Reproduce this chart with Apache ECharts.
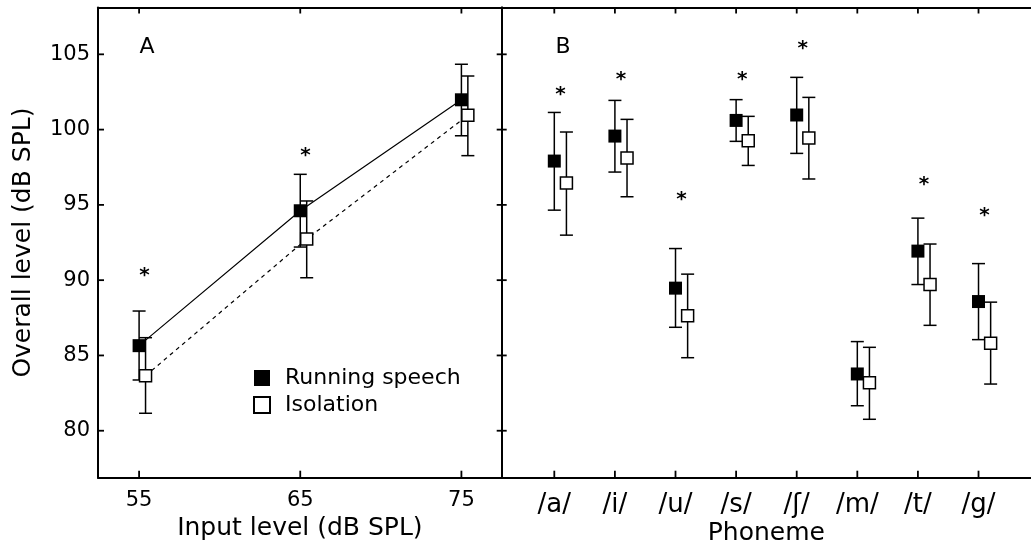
<!DOCTYPE html>
<html>
<head>
<meta charset="utf-8">
<script src="https://cdn.jsdelivr.net/npm/echarts@6/dist/echarts.min.js"></script>
<style>
html,body{margin:0;padding:0;background:#fff;}
#chart{width:1031px;height:548px;}
</style>
</head>
<body>
<div id="chart"></div>
<script>
// ---------- data ----------
const inputLevels = [55, 65, 75];
const runA    = [85.65, 94.61, 101.98];
const runALo  = [83.37, 92.20, 99.59];
const runAHi  = [87.95, 97.03, 104.34];
const isoA    = [83.65, 92.73, 100.95];
const isoALo  = [81.16, 90.16, 98.27];
const isoAHi  = [86.18, 95.26, 103.56];
const starsA  = [90.41, 98.40, null];

const phonemes = ['/a/', '/i/', '/u/', '/s/', '/ʃ/', '/m/', '/t/', '/g/'];
const runB    = [97.91, 99.57, 89.47, 100.61, 100.97, 83.77, 91.93, 88.58];
const runBLo  = [94.65, 97.18, 86.87, 99.22, 98.42, 81.66, 89.71, 86.05];
const runBHi  = [101.14, 101.94, 92.10, 101.99, 103.47, 85.92, 94.12, 91.10];
const isoB    = [96.45, 98.11, 87.63, 99.26, 99.44, 83.19, 89.71, 85.81];
const isoBLo  = [92.99, 95.54, 84.85, 97.62, 96.72, 80.76, 87.00, 83.10];
const isoBHi  = [99.84, 100.68, 90.40, 100.88, 102.14, 85.54, 92.40, 88.54];
const starsB  = [102.47, 103.47, 95.48, 103.47, 105.51, null, 96.50, 94.44];

const yTicks = [80, 85, 90, 95, 100, 105];
const seriesNames = ['Running speech', 'Isolation'];
const panelLabels = ['A', 'B'];
const xTitleA = 'Input level (dB SPL)';
const xTitleB = 'Phoneme';
const yTitle = 'Overall level (dB SPL)';

// ---------- layout ----------
const FONT = 'DejaVu Sans';
const TICK_COLOR = '#000';
const isoOffA = 0.4, starOffA = 0.33;
const isoOffB = 0.2, starOffB = 0.1;
const phIdx = phonemes.map((_, i) => i);
const YMIN = 76.88, YMAX = 108.11;
const XA = [52.45, 77.5], XB = [-0.868, 7.866];

const axisLine = {show: true, onZero: false, lineStyle: {color: '#000', width: 2}};
function plainAxis(grid, pos, range) {
  return {gridIndex: grid, type: 'value', position: pos, min: range[0], max: range[1],
          axisLine: axisLine, axisTick: {show: false}, splitLine: {show: false},
          axisLabel: {show: false}};
}

// inward tick marks: one line element per data item, placed through the axis scales
function tickSeries(items, xi, yi, isX) {
  return {
    type: 'custom', xAxisIndex: xi, yAxisIndex: yi, z: 20, zlevel: 1, silent: true, clip: false,
    data: items,
    renderItem: function (params, api) {
      const v = api.value(0), e = api.value(1), d = api.value(2), len = api.value(3);
      const p = isX ? api.coord([v, e]) : api.coord([e, v]);
      const shape = isX ? {x1: p[0], y1: p[1], x2: p[0], y2: p[1] + d * len}
                        : {x1: p[0], y1: p[1], x2: p[0] + d * len, y2: p[1]};
      return {type: 'line', shape: shape, style: {stroke: TICK_COLOR, lineWidth: 1.8}};
    }
  };
}
function xTickItems(vals, bottomLen, topLen) {
  const out = [];
  vals.forEach(v => { out.push([v, YMIN, -1, bottomLen]); out.push([v, YMAX, 1, topLen]); });
  return out;
}
function yTickItems(vals, range, leftLen, rightLen) {
  const out = [];
  vals.forEach(v => {
    if (leftLen) out.push([v, range[0], 1, leftLen]);
    if (rightLen) out.push([v, range[1], -1, rightLen]);
  });
  return out;
}

function errData(xs, lo, hi, off) {
  return xs.map((x, i) => [x + off, lo[i], hi[i]]);
}
function errSeries(data, xi, yi) {
  return {
    type: 'custom', xAxisIndex: xi, yAxisIndex: yi, z: 3, silent: true,
    encode: {x: 0, y: [1, 2]},
    data: data,
    renderItem: function (params, api) {
      const x = api.value(0);
      const a = api.coord([x, api.value(1)]);
      const b = api.coord([x, api.value(2)]);
      const w = 6.5;
      const st = {stroke: '#000', lineWidth: 1.5};
      return {type: 'group', children: [
        {type: 'line', shape: {x1: a[0], y1: a[1], x2: b[0], y2: b[1]}, style: st},
        {type: 'line', shape: {x1: a[0] - w, y1: a[1], x2: a[0] + w, y2: a[1]}, style: st},
        {type: 'line', shape: {x1: b[0] - w, y1: b[1], x2: b[0] + w, y2: b[1]}, style: st}
      ]};
    }
  };
}
function starSeries(xs, ys, off, xi, yi) {
  const data = [];
  xs.forEach((x, i) => { if (ys[i] != null) data.push([x + off, ys[i]]); });
  return {
    type: 'custom', xAxisIndex: xi, yAxisIndex: yi, z: 5, silent: true,
    data: data,
    renderItem: function (params, api) {
      const p = api.coord([api.value(0), api.value(1)]);
      return {type: 'text', style: {text: '*', x: p[0], y: p[1] + 2, fill: '#000',
        font: 'bold 20px "DejaVu Sans"', align: 'center', verticalAlign: 'middle'}};
    }
  };
}
const runStyle = {color: '#000', opacity: 1};
const isoStyle = {color: '#fff', borderColor: '#000', borderWidth: 1.5, opacity: 1};

const option = {
  animation: false,
  backgroundColor: '#fff',
  textStyle: {fontFamily: FONT, color: '#000'},
  grid: [
    {left: 98, top: 7.5, width: 403.7, height: 470.2, containLabel: false, outerBoundsMode: 'none'},
    {left: 501.7, top: 7.5, width: 529.3, height: 470.2, containLabel: false, outerBoundsMode: 'none'}
  ],
  legend: {
    data: seriesNames, selectedMode: false, orient: 'vertical', padding: 0,
    left: 253, top: 367, itemWidth: 16, itemHeight: 16, itemGap: 5,
    textStyle: {fontFamily: FONT, fontSize: 22, color: '#000', padding: [0, 0, 0, 10]}
  },
  graphic: [
    {type: 'text', x: 147, y: 47, style: {text: panelLabels[0], font: '22px "DejaVu Sans"', fill: '#000', align: 'center', verticalAlign: 'middle'}},
    {type: 'text', x: 563, y: 47, style: {text: panelLabels[1], font: '22px "DejaVu Sans"', fill: '#000', align: 'center', verticalAlign: 'middle'}}
  ],
  xAxis: [
    {gridIndex: 0, type: 'value', position: 'bottom', min: XA[0], max: XA[1],
     axisLine: axisLine, axisTick: {show: false}, splitLine: {show: false},
     axisLabel: {customValues: inputLevels, fontSize: 21, color: '#000', margin: 12, fontFamily: FONT},
     name: xTitleA, nameLocation: 'middle', nameGap: 37,
     nameTextStyle: {fontSize: 25, color: '#000', fontFamily: FONT}},
    plainAxis(0, 'top', XA),
    {gridIndex: 1, type: 'value', position: 'bottom', min: XB[0], max: XB[1],
     axisLine: axisLine, axisTick: {show: false}, splitLine: {show: false},
     axisLabel: {customValues: phIdx, fontSize: 26, color: '#000', margin: 15, fontFamily: FONT,
                 formatter: v => phonemes[Math.round(v)]},
     name: xTitleB, nameLocation: 'middle', nameGap: 43, nameMoveOverlap: false,
     nameTextStyle: {fontSize: 25, color: '#000', fontFamily: FONT}},
    plainAxis(1, 'top', XB)
  ],
  yAxis: [
    {gridIndex: 0, type: 'value', position: 'left', min: YMIN, max: YMAX,
     axisLine: axisLine, axisTick: {show: false}, splitLine: {show: false},
     axisLabel: {customValues: yTicks, fontSize: 21, color: '#000', margin: 8, fontFamily: FONT},
     name: yTitle, nameLocation: 'middle', nameGap: 62, nameRotate: 90,
     nameTextStyle: {fontSize: 25, color: '#000', fontFamily: FONT}},
    plainAxis(0, 'right', [YMIN, YMAX]),
    plainAxis(1, 'left', [YMIN, YMAX])
  ],
  series: [
    {type: 'line', xAxisIndex: 0, yAxisIndex: 0, symbol: 'none', z: 2, silent: true,
     data: inputLevels.map((x, i) => [x, runA[i]]),
     lineStyle: {color: '#000', width: 1.2}},
    {type: 'line', xAxisIndex: 0, yAxisIndex: 0, symbol: 'none', z: 2, silent: true,
     data: inputLevels.map((x, i) => [x + isoOffA, isoA[i]]),
     lineStyle: {color: '#000', width: 1.2, type: [4, 4]}},
    errSeries(errData(inputLevels, runALo, runAHi, 0), 0, 0),
    errSeries(errData(inputLevels, isoALo, isoAHi, isoOffA), 0, 0),
    errSeries(errData(phIdx, runBLo, runBHi, 0), 2, 2),
    errSeries(errData(phIdx, isoBLo, isoBHi, isoOffB), 2, 2),
    {name: seriesNames[0], type: 'scatter', xAxisIndex: 0, yAxisIndex: 0, symbol: 'rect', symbolSize: 13, z: 4,
     data: inputLevels.map((x, i) => [x, runA[i]]), itemStyle: runStyle},
    {name: seriesNames[1], type: 'scatter', xAxisIndex: 0, yAxisIndex: 0, symbol: 'rect', symbolSize: 12, z: 4,
     data: inputLevels.map((x, i) => [x + isoOffA, isoA[i]]), itemStyle: isoStyle},
    {name: seriesNames[0], type: 'scatter', xAxisIndex: 2, yAxisIndex: 2, symbol: 'rect', symbolSize: 13, z: 4,
     data: phIdx.map((x, i) => [x, runB[i]]), itemStyle: runStyle},
    {name: seriesNames[1], type: 'scatter', xAxisIndex: 2, yAxisIndex: 2, symbol: 'rect', symbolSize: 12, z: 4,
     data: phIdx.map((x, i) => [x + isoOffB, isoB[i]]), itemStyle: isoStyle},
    starSeries(inputLevels, starsA, starOffA, 0, 0),
    starSeries(phIdx, starsB, starOffB, 2, 2),
    tickSeries(xTickItems(inputLevels, 7, 6), 0, 0, true),
    tickSeries(xTickItems(phIdx, 7, 6), 2, 2, true),
    tickSeries(yTickItems(yTicks, XA, 6, 5), 0, 0, false),
    tickSeries(yTickItems(yTicks, XB, 5, 0), 2, 2, false)
  ]
};

const chart = echarts.init(document.getElementById('chart'), null, {renderer: 'canvas'});
chart.setOption(option);
</script>
</body>
</html>
